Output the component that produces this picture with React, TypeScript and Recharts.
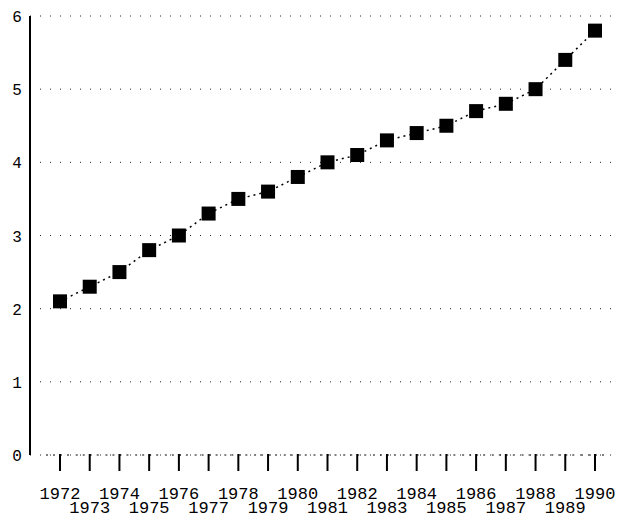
import { LineChart, Line, XAxis, YAxis, CartesianGrid } from 'recharts'

const years = [
  1972, 1973, 1974, 1975, 1976, 1977, 1978, 1979, 1980, 1981,
  1982, 1983, 1984, 1985, 1986, 1987, 1988, 1989, 1990,
]
const values = [
  2.1, 2.3, 2.5, 2.8, 3.0, 3.3, 3.5, 3.6, 3.8, 4.0,
  4.1, 4.3, 4.4, 4.5, 4.7, 4.8, 5.0, 5.4, 5.8,
]
const yTicks = [0, 1, 2, 3, 4, 5, 6]

const data = years.map((y, i) => ({ year: String(y), value: values[i] }))

const FONT = '"Liberation Mono", "DejaVu Sans Mono", monospace'

const SquareDot = ({ cx, cy }: any) => {
  if (cx == null || cy == null) return null
  return <rect x={cx - 7} y={cy - 7} width={14} height={14} fill="#000" />
}

const YearTick = ({ x, y, payload, index }: any) => {
  const odd = index % 2 === 1
  return (
    <g>
      <line x1={x} y1={y - 9} x2={x} y2={y + 8} stroke="#000" strokeWidth={2} />
      <line x1={x - 14} y1={y - 8} x2={x + 14} y2={y - 8} stroke="#000" strokeDasharray="2 5" />
      <text
        x={x} y={y + (odd ? 50 : 36)} textAnchor="middle"
        fontFamily={FONT} fontSize={17} fill="#000"
      >
        {payload.value}
      </text>
    </g>
  )
}

const ValueTick = ({ x, y, payload }: any) => (
  <text x={x - 5} y={y + 6} textAnchor="middle" fontFamily={FONT} fontSize={16} fill="#000">
    {payload.value}
  </text>
)

export default function App() {
  return (
    <div style={{ position: 'absolute', left: 0, top: 0, background: '#fff' }}>
      <LineChart
        width={618} height={520} data={data}
        margin={{ top: 16, right: 3, left: 0, bottom: 0 }}
      >
        <CartesianGrid
          horizontal vertical={false}
          stroke="#222" strokeDasharray="1 9"
        />
        <XAxis
          dataKey="year" height={65} interval={0}
          padding={{ left: 30, right: 20 }}
          axisLine={false}
          tickLine={false}
          tick={<YearTick />}
        />
        <YAxis
          domain={[0, 6]} ticks={yTicks} width={30}
          axisLine={{ stroke: '#000', strokeWidth: 2 }}
          tickLine={false}
          tick={<ValueTick />}
        />
        <Line
          type="linear" dataKey="value" stroke="#000" strokeWidth={1.5}
          strokeDasharray="2 4" dot={<SquareDot />} isAnimationActive={false}
        />
      </LineChart>
    </div>
  )
}
